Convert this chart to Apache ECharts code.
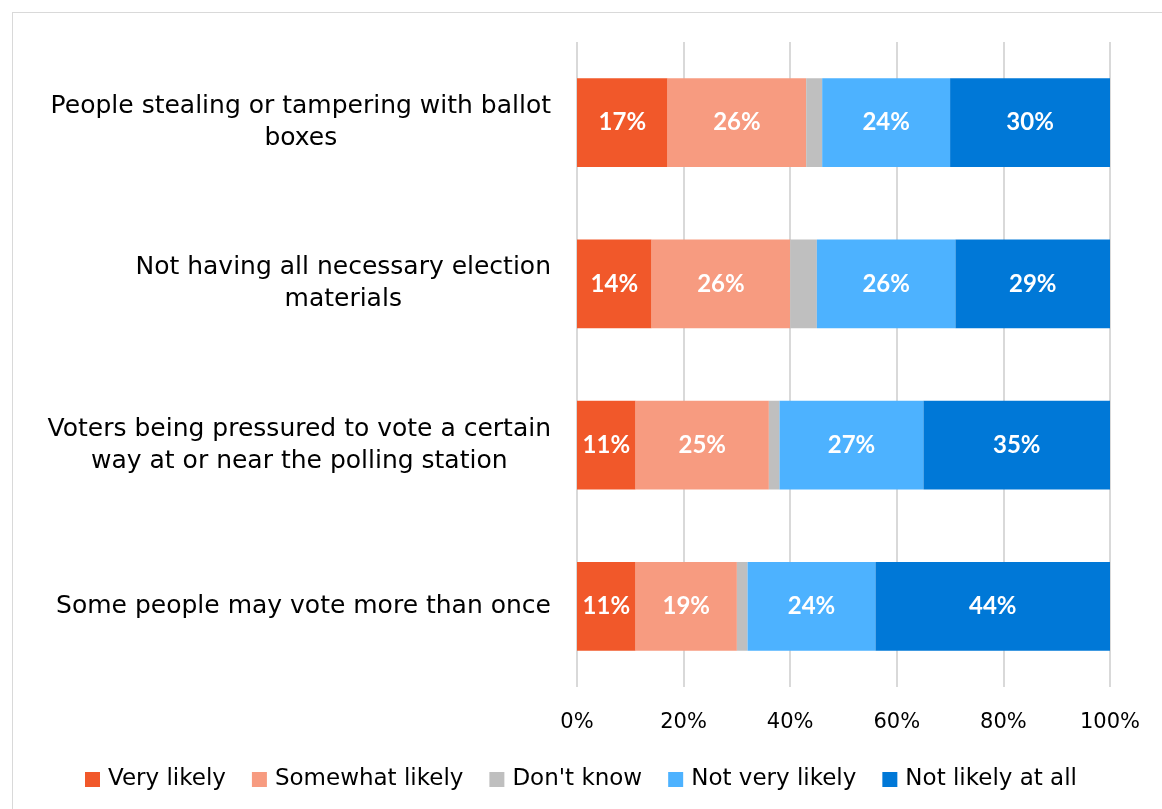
<!DOCTYPE html>
<html>
<head>
<meta charset="utf-8">
<script src="https://cdn.jsdelivr.net/npm/echarts@6/dist/echarts.min.js"></script>
<style>
  html, body { margin: 0; padding: 0; background: #fff; }
  #frame { position: absolute; left: 12px; top: 12px; width: 1160px; height: 820px; border: 1px solid #d9d9d9; box-sizing: border-box; }
  #chart { position: absolute; left: 0; top: 0; width: 1162px; height: 809px; }
</style>
</head>
<body>
<div id="frame"></div>
<div id="chart"></div>
<script>
// Survey items (top to bottom)
const categories = [
  'People stealing or tampering with ballot\nboxes',
  'Not having all necessary election\nmaterials',
  'Voters being pressured to vote a certain\nway at or near the polling station',
  'Some people may vote more than once'
];

// Share of respondents per answer, percent
const veryLikely      = [17, 14, 11, 11];
const somewhatLikely  = [26, 26, 25, 19];
const dontKnow        = [3, 5, 2, 2];
const notVeryLikely   = [24, 26, 27, 24];
const notLikelyAtAll  = [30, 29, 35, 44];

const seriesNames = ['Very likely', 'Somewhat likely', "Don't know", 'Not very likely', 'Not likely at all'];
const seriesData  = [veryLikely, somewhatLikely, dontKnow, notVeryLikely, notLikelyAtAll];
const colors      = ['#F1582A', '#F79B80', '#BFBFBF', '#4DB2FF', '#0078D7'];
const showLabel   = [true, true, false, true, true];

const TEXT_FONT  = '"DejaVu Sans", Verdana, sans-serif';
const LABEL_FONT = 'Lato, "Open Sans", sans-serif';

const chart = echarts.init(document.getElementById('chart'), null, { renderer: 'canvas' });

chart.setOption({
  animation: false,
  color: colors,
  textStyle: { fontFamily: TEXT_FONT },
  grid: { left: 577, right: 52, top: 42, bottom: 122, containLabel: false },
  legend: {
    top: 763,
    left: 'center',
    itemWidth: 15,
    itemHeight: 15,
    itemGap: 26,
    icon: 'rect',
    textStyle: { fontSize: 23, color: '#000', fontFamily: TEXT_FONT, padding: [0, 0, 0, 3] },
    data: seriesNames
  },
  xAxis: {
    type: 'value',
    min: 0,
    max: 100,
    interval: 20,
    axisLabel: { formatter: '{value}%', fontSize: 21, color: '#000', margin: 25, fontFamily: TEXT_FONT },
    axisLine: { show: false },
    axisTick: { show: false },
    splitLine: { show: true, lineStyle: { color: '#d9d9d9', width: 2 } }
  },
  yAxis: {
    type: 'category',
    inverse: true,
    data: categories,
    axisLine: { show: false },
    axisTick: { show: false },
    axisLabel: {
      margin: 26,
      fontSize: 25,
      color: '#000',
      fontFamily: TEXT_FONT,
      lineHeight: 32,
      formatter: function (v) {
        return v.split('\n').map(function (l) { return '{c|' + l + '}'; }).join('\n');
      },
      rich: { c: { align: 'center', fontSize: 25, lineHeight: 32, color: '#000', fontFamily: TEXT_FONT } }
    }
  },
  series: seriesData.map(function (d, i) {
    return {
      name: seriesNames[i],
      type: 'bar',
      stack: 'total',
      data: d,
      barWidth: '55%',
      itemStyle: { color: colors[i] },
      label: {
        show: showLabel[i],
        position: 'inside',
        formatter: '{c}%',
        color: '#fff',
        fontWeight: 'bold',
        fontSize: 24,
        fontFamily: LABEL_FONT
      }
    };
  })
});
</script>
</body>
</html>
